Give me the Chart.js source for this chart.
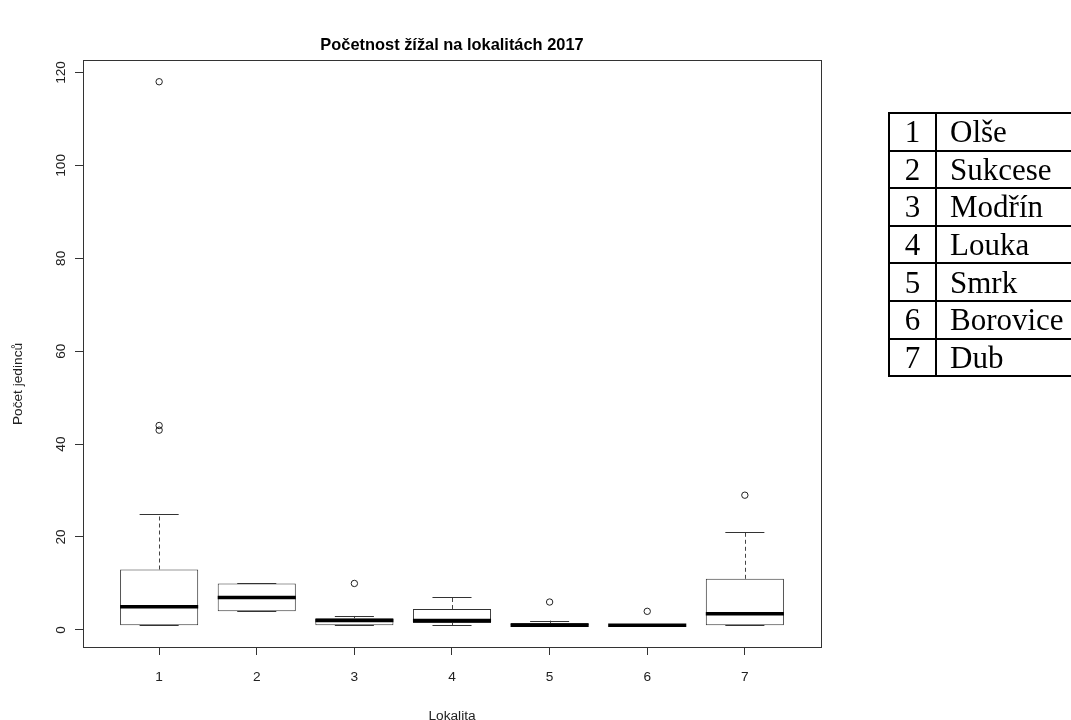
<!DOCTYPE html>
<html>
<head>
<meta charset="utf-8">
<script src="https://cdn.jsdelivr.net/npm/chart.js@4.4.0/dist/chart.umd.min.js"></script>
<style>
  html, body { margin: 0; padding: 0; background: #fff; overflow: hidden; }
  #plot { position: absolute; left: 0; top: 0; }
  #legend {
    position: absolute; left: 888px; top: 112px;
    width: 230px; table-layout: fixed;
    border-collapse: collapse;
    font-family: "Liberation Serif", "Times New Roman", serif;
    font-size: 31px; color: #000;
  }
  #legend td { border: 2px solid #000; height: 35.6px; padding: 0; line-height: 1; white-space: nowrap; }
  #legend td.n { width: 45px; text-align: center; }
  #legend td.t { padding-left: 13px; }
</style>
</head>
<body>
<canvas id="plot" width="904" height="720"></canvas>
<table id="legend">
  <tr><td class="n">1</td><td class="t">Olše</td></tr>
  <tr><td class="n">2</td><td class="t">Sukcese</td></tr>
  <tr><td class="n">3</td><td class="t">Modřín</td></tr>
  <tr><td class="n">4</td><td class="t">Louka</td></tr>
  <tr><td class="n">5</td><td class="t">Smrk</td></tr>
  <tr><td class="n">6</td><td class="t">Borovice</td></tr>
  <tr><td class="n">7</td><td class="t">Dub</td></tr>
</table>
<script>
// Earthworm counts per site (boxplot five-number summaries + outliers)
const lokality     = [1, 2, 3, 4, 5, 6, 7];
const dolniVous    = [1, 4, 1, 1, 1, 1, 1];
const dolniKvartil = [1, 4, 1, 1.5, 1, 1, 1];
const median       = [5, 7, 2, 2, 1, 1, 3.5];
const horniKvartil = [13, 10, 2.5, 4.5, 1.5, 1, 11];
const horniVous    = [25, 10, 3, 7, 2, 1, 21];
const odlehle      = [[118, 44, 43], [], [10], [], [6], [4], [29]];
const yTicks       = [0, 20, 40, 60, 80, 100, 120];

const FONT = '"Liberation Sans", Arial, sans-serif';
const LINE = '#333';

// whiskers, caps and medians drawn on top of the boxes
const boxWhiskers = {
  id: 'boxWhiskers',
  afterDatasetDraw(chart, args) {
    if (args.index !== 0) return;
    const { ctx } = chart;
    const y = chart.scales.y;
    const bars = chart.getDatasetMeta(0).data;
    const seg = (x1, y1, x2, y2) => { ctx.beginPath(); ctx.moveTo(x1, y1); ctx.lineTo(x2, y2); ctx.stroke(); };
    ctx.save();
    bars.forEach((bar, i) => {
      const { x, width } = bar.getProps(['x', 'width'], true);
      const px = Math.round(x) + 0.5;
      const cap = width / 4;
      ctx.strokeStyle = '#444';
      ctx.lineWidth = 1;
      ctx.setLineDash([4, 3]);
      if (horniVous[i] > horniKvartil[i])
        seg(px, y.getPixelForValue(horniKvartil[i]), px, y.getPixelForValue(horniVous[i]));
      if (dolniVous[i] < dolniKvartil[i])
        seg(px, y.getPixelForValue(dolniKvartil[i]), px, y.getPixelForValue(dolniVous[i]));
      ctx.setLineDash([]);
      ctx.strokeStyle = LINE;
      [horniVous[i], dolniVous[i]].forEach(v => {
        const py = Math.round(y.getPixelForValue(v)) + 0.5;
        seg(x - cap, py, x + cap, py);
      });
      ctx.strokeStyle = '#000';
      ctx.lineWidth = 3.5;
      const my = y.getPixelForValue(median[i]);
      seg(x - width / 2, my, x + width / 2, my);
    });
    ctx.restore();
  }
};

// frame around the plot region, main title and axis titles
const frameAndTitles = {
  id: 'frameAndTitles',
  afterDraw(chart) {
    const { ctx, chartArea: a } = chart;
    ctx.save();
    ctx.strokeStyle = LINE;
    ctx.lineWidth = 1;
    ctx.strokeRect(Math.round(a.left) + 0.5, Math.round(a.top) + 0.5,
                   Math.round(a.right - a.left), Math.round(a.bottom - a.top));
    ctx.fillStyle = '#000';
    ctx.textAlign = 'center';
    ctx.textBaseline = 'middle';
    ctx.font = 'bold 16.4px ' + FONT;
    ctx.fillText('Početnost žížal na lokalitách 2017', (a.left + a.right) / 2, 45);
    ctx.fillStyle = '#222';
    ctx.font = '13.7px ' + FONT;
    ctx.fillText('Lokalita', (a.left + a.right) / 2, 716);
    ctx.translate(18, 384);
    ctx.rotate(-Math.PI / 2);
    ctx.fillText('Počet jedinců', 0, 0);
    ctx.restore();
  }
};

new Chart(document.getElementById('plot'), {
  type: 'bar',
  data: {
    datasets: [
      {
        label: 'Kvartily',
        data: lokality.map((l, i) => ({ x: l, y: [dolniKvartil[i], horniKvartil[i]] })),
        backgroundColor: '#fff',
        borderColor: LINE,
        borderWidth: 1,
        borderSkipped: false,
        barPercentage: 0.8,
        categoryPercentage: 1
      },
      {
        type: 'scatter',
        label: 'Odlehlé hodnoty',
        data: odlehle.flatMap((vals, i) => vals.map(v => ({ x: lokality[i], y: v }))),
        pointRadius: 3.2,
        pointBorderWidth: 1,
        pointBorderColor: '#222',
        pointBackgroundColor: 'rgba(0,0,0,0)'
      }
    ]
  },
  options: {
    responsive: false,
    animation: false,
    devicePixelRatio: 1,
    layout: { padding: { top: 60, right: 83, bottom: 0, left: 0 } },
    plugins: { legend: { display: false }, tooltip: { enabled: false }, title: { display: false } },
    scales: {
      x: {
        type: 'linear',
        offset: false,
        min: 0.22,
        max: 7.78,
        afterBuildTicks: s => { s.ticks = lokality.map(v => ({ value: v })); },
        afterFit: s => { s.height = 73; },
        border: { display: false },
        grid: { offset: false, drawOnChartArea: false, drawTicks: true, tickLength: 8, color: LINE },
        ticks: { color: '#222', font: { family: FONT, size: 13.7 }, padding: 14, maxRotation: 0,
                 callback: v => String(v) }
      },
      y: {
        type: 'linear',
        min: -3.68,
        max: 122.68,
        afterBuildTicks: s => { s.ticks = yTicks.map(v => ({ value: v })); },
        afterFit: s => { s.width = 83; },
        border: { display: false },
        grid: { offset: false, drawOnChartArea: false, drawTicks: true, tickLength: 8, color: LINE },
        ticks: { color: '#222', font: { family: FONT, size: 13.7 }, padding: 2,
                 minRotation: 90, maxRotation: 90, crossAlign: 'center',
                 callback: v => String(v) }
      }
    }
  },
  plugins: [boxWhiskers, frameAndTitles]
});
</script>
</body>
</html>
